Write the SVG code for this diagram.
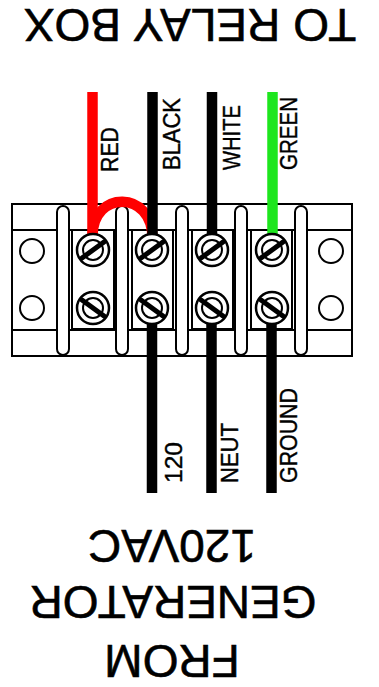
<svg xmlns="http://www.w3.org/2000/svg" width="379" height="687" viewBox="0 0 379 687">
<style>
.big{font-family:"Liberation Sans",Arial,sans-serif;font-size:46px;fill:#000;text-anchor:middle;stroke:#000;stroke-width:0.6}
.lbl{font-family:"Liberation Sans",Arial,sans-serif;font-size:24px;fill:#000;stroke:#000;stroke-width:0.4}
.ln{fill:none;stroke:#000;stroke-width:2}
.bar{fill:#fff;stroke:#000;stroke-width:2}
.wire{fill:none;stroke-width:10.5}
.slot{stroke:#000;stroke-width:5;stroke-linecap:round}
</style>
<defs>
<g id="screwA">
<circle r="16" fill="#fff" stroke="#000" stroke-width="2.5"/>
<circle r="10" fill="none" stroke="#000" stroke-width="2"/>
<line x1="-11" y1="8" x2="11" y2="-8" class="slot"/>
</g>
<g id="screwB">
<circle r="16" fill="#fff" stroke="#000" stroke-width="2.5"/>
<circle r="10" fill="none" stroke="#000" stroke-width="2"/>
<line x1="-11" y1="-8" x2="11" y2="8" class="slot"/>
</g>
</defs>
<rect width="379" height="687" fill="#fff"/>
<g id="title">
<text class="big" font-size="47" transform="translate(190,9) rotate(180)">TO RELAY BOX</text>
</g>
<g id="source">
<text class="big" transform="translate(172,530) rotate(180)">120VAC</text>
<text class="big" transform="translate(173,586) rotate(180)">GENERATOR</text>
<text class="big" transform="translate(172,645) rotate(180)">FROM</text>
</g>
<g id="terminal-block">
<rect x="12" y="204" width="340" height="152" class="ln" fill="#fff"/>
<line x1="12" y1="230" x2="352" y2="230" class="ln"/>
<line x1="12" y1="330" x2="352" y2="330" class="ln"/>
<rect x="57" y="206" width="12" height="149" rx="6" class="bar"/>
<rect x="116" y="206" width="12" height="149" rx="6" class="bar"/>
<rect x="176" y="206" width="12" height="149" rx="6" class="bar"/>
<rect x="235" y="206" width="12" height="149" rx="6" class="bar"/>
<rect x="295" y="206" width="12" height="149" rx="6" class="bar"/>
<rect x="72" y="230" width="42" height="99" class="ln"/>
<rect x="132" y="230" width="41" height="99" class="ln"/>
<rect x="192" y="230" width="41" height="99" class="ln"/>
<rect x="251" y="230" width="41" height="99" class="ln"/>
<circle cx="32" cy="251" r="12" class="ln"/>
<circle cx="32" cy="308" r="12" class="ln"/>
<circle cx="331" cy="251" r="12" class="ln"/>
<circle cx="331" cy="308" r="12" class="ln"/>
</g>
<g id="connectors">
<path d="M92.5 92 V238" class="wire" stroke="#ff0000"/>
<path d="M92.5 236 C92.5 190 152.5 190 152.5 238" class="wire" stroke="#ff0000"/>
<path d="M152.5 92 V238" class="wire" stroke="#000"/>
<path d="M212 92 V238" class="wire" stroke="#000"/>
<path d="M272.5 92 V238" class="wire" stroke="#1ee61e"/>
<path d="M152 318 V493" class="wire" stroke="#000"/>
<path d="M211.5 318 V493" class="wire" stroke="#000"/>
<path d="M271.5 318 V493" class="wire" stroke="#000"/>
</g>
<g id="screws">
<use href="#screwA" x="93" y="250"/>
<use href="#screwA" x="152" y="250"/>
<use href="#screwA" x="212" y="250"/>
<use href="#screwA" x="272" y="250"/>
<use href="#screwB" x="93" y="308"/>
<use href="#screwB" x="152" y="308"/>
<use href="#screwB" x="212" y="308"/>
<use href="#screwB" x="272" y="308"/>
</g>
<g id="wire-labels">
<text class="lbl" transform="translate(118,172) rotate(-90)" textLength="45" lengthAdjust="spacingAndGlyphs">RED</text>
<text class="lbl" transform="translate(180,170) rotate(-90)" textLength="72" lengthAdjust="spacingAndGlyphs">BLACK</text>
<text class="lbl" transform="translate(240,170) rotate(-90)" textLength="65" lengthAdjust="spacingAndGlyphs">WHITE</text>
<text class="lbl" transform="translate(297,170) rotate(-90)" textLength="73" lengthAdjust="spacingAndGlyphs">GREEN</text>
<text class="lbl" transform="translate(182,483) rotate(-90)" textLength="41" lengthAdjust="spacingAndGlyphs">120</text>
<text class="lbl" transform="translate(238,483) rotate(-90)" textLength="60" lengthAdjust="spacingAndGlyphs">NEUT</text>
<text class="lbl" transform="translate(297,483) rotate(-90)" textLength="95" lengthAdjust="spacingAndGlyphs">GROUND</text>
</g>
</svg>
